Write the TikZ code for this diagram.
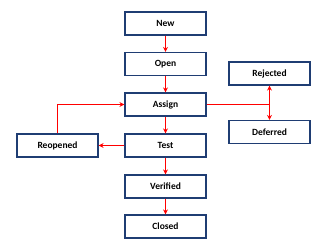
\documentclass[tikz,border=0pt]{standalone}
\usepackage{fontspec}
\setmainfont{Carlito}
\definecolor{BoxBlue}{HTML}{1F3D73}
\definecolor{FlowRed}{HTML}{FF0000}
\usetikzlibrary{positioning,arrows.meta}
\begin{document}
\begin{tikzpicture}[x=1pt, y=-1pt,
    every node/.style={font=\fontsize{9.5}{11}\selectfont\bfseries},
    state/.style={rectangle, draw=BoxBlue, line width=1.2pt, fill=white,
      minimum width=81pt, minimum height=23pt, inner sep=0pt},
    flow/.style={draw=FlowRed, line width=1.2pt, -{Stealth[length=5pt,width=5pt]}}]
    \useasboundingbox (0,0) rectangle (320,251);
    % main life cycle
    \node[state] (new) at (165.5,23.5) {New};
    \node[state] (open) at (165.5,64) {Open};
    \node[state] (assign) at (165.5,104.5) {Assign};
    \node[state] (test) at (165.5,145.5) {Test};
    \node[state] (verified) at (165.5,186.5) {Verified};
    \node[state] (closed) at (165.5,226.5) {Closed};
    % side states
    \node[state] (reopened) at (57.5,145.5) {Reopened};
    \node[state] (rejected) at (269.5,73.5) {Rejected};
    \node[state] (deferred) at (269.5,132) {Deferred};
    \draw[flow] (new)--(open);
    \draw[flow] (open)--(assign);
    \draw[flow] (assign)--(test);
    \draw[flow] (test)--(verified);
    \draw[flow] (verified)--(closed);
    \draw[flow] (test)--(reopened);
    \draw[flow] (reopened.north) |- (assign.west);
    \coordinate (split) at (rejected.south |- assign.east);
    \draw[FlowRed, line width=1.2pt] (assign.east) -- (split);
    \draw[flow] (split) -- (rejected.south);
    \draw[flow] (split) -- (deferred.north);
  \end{tikzpicture}
\end{document}
